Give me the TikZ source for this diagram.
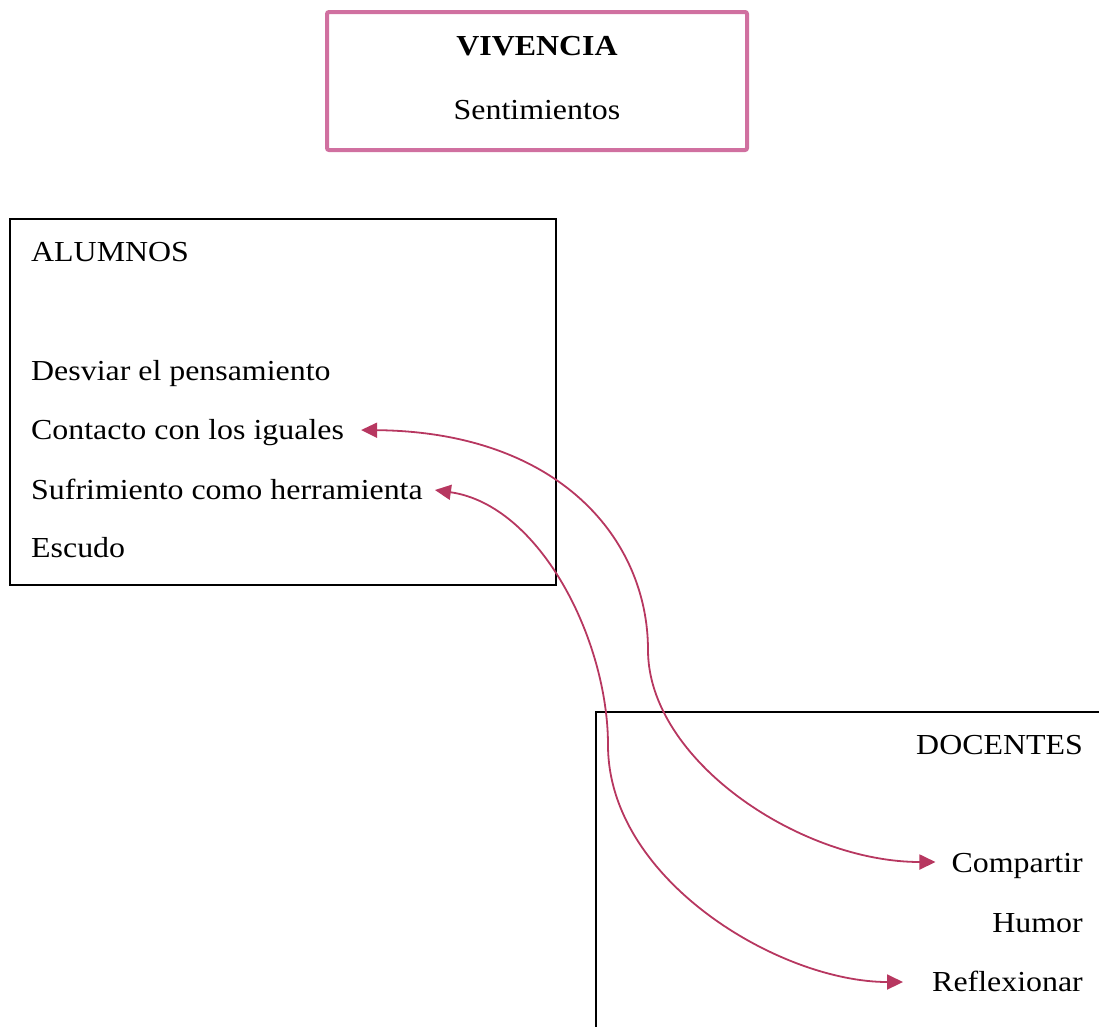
\documentclass[tikz,border=0pt]{standalone}
\usepackage{fontspec}
\setmainfont[FakeStretch=1.1]{Liberation Serif}
\usetikzlibrary{arrows.meta}
\definecolor{boxpink}{HTML}{D070A0}
\definecolor{linkred}{HTML}{B73760}
\tikzset{
  label text/.style={inner sep=0pt, font=\fontsize{29}{34}\selectfont},
  frame/.style={draw=black, line width=1.6pt, inner sep=0pt},
  link/.style={draw=linkred, line width=1.8pt,
    {Triangle[length=16pt,width=15pt]}-{Triangle[length=16pt,width=15pt]}},
}
\begin{document}
\begin{tikzpicture}[x=1pt,y=-1pt]
  \useasboundingbox (0,0) rectangle (1099,1026);

  % header box
  \node[draw=boxpink, line width=4pt, rounded corners=2pt,
        minimum width=420pt, minimum height=138pt, inner sep=0pt]
        (vivbox) at (537,81) {};
  \node[label text, anchor=base] (vivencia) at (537,55) {\textbf{VIVENCIA}};
  \node[label text, anchor=base] (sentim) at (537,119) {Sentimientos};

  % students box
  \node[frame, minimum width=546pt, minimum height=366pt] (alumbox) at (283,402) {};
  \node[label text, anchor=base west] (alumnos) at (31,261) {ALUMNOS};
  \node[label text, anchor=base west] (desviar) at (31,380) {Desviar el pensamiento};
  \node[label text, anchor=base west] (contacto) at (31,439) {Contacto con los iguales};
  \node[label text, anchor=base west] (sufrim) at (31,499) {Sufrimiento como herramienta};
  \node[label text, anchor=base west] (escudo) at (31,557) {Escudo};

  % teachers box (runs past the right and bottom edges)
  \draw[line width=1.6pt] (1110,712) -- (596,712) -- (596,1040);
  \coordinate (docbox) at (596,712);
  \node[label text, anchor=base east] (docentes) at (1083,754) {DOCENTES};
  \node[label text, anchor=base east] (compartir) at (1083,872) {Compartir};
  \node[label text, anchor=base east] (humor) at (1083,932) {Humor};
  \node[label text, anchor=base east] (reflex) at (1083,991) {Reflexionar};

  % links between both lists
  \draw[link] ([xshift=17pt,yshift=9pt]contacto.base east) .. controls (560,432) and (648,540) .. (648,650)
        .. controls (648,760) and (800,862) .. ([xshift=-16pt,yshift=10pt]compartir.base west);
  \draw[link] ([xshift=12pt,yshift=9pt]sufrim.base east) .. controls (540,505) and (608,640) .. (608,745)
        .. controls (608,880) and (780,982) .. ([xshift=-29pt,yshift=9pt]reflex.base west);
\end{tikzpicture}
\end{document}
